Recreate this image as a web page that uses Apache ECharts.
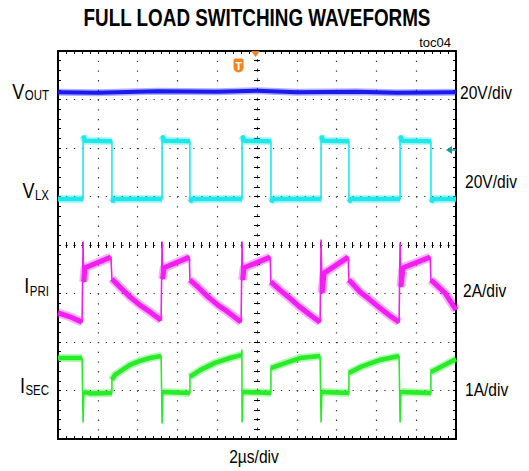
<!DOCTYPE html>
<html>
<head>
<meta charset="utf-8">
<script src="https://cdn.jsdelivr.net/npm/echarts@6/dist/echarts.min.js"></script>
<style>
html,body{margin:0;padding:0;background:#fff;}
#c{width:529px;height:471px;}
</style>
</head>
<body>
<div id="c"></div>
<script>
// time in µs relative to the trigger point; amplitude in screen divisions from the centre line
const titleText = 'FULL LOAD SWITCHING WAVEFORMS';
const figId = 'toc04';
const timeScale = '2µs/div';
const channelMain = ['V', 'V', 'I', 'I'];
const channelSub = ['OUT', 'LX', 'PRI', 'SEC'];
const channelScale = ['20V/div', '20V/div', '2A/div', '1A/div'];

const vOut = [[-10,3.15],[-8,3.14],[-5,3.17],[-2,3.16],[0,3.18],[2,3.15],[5,3.16],[7,3.14],[10,3.15]];

const vLx = [
[-10,0.95],[-8.74,0.95],[-8.74,2.25],[-8.62,2.15],[-7.29,2.14],[-7.29,0.88],[-7.17,0.95],
[-4.77,0.95],[-4.77,2.25],[-4.65,2.15],[-3.37,2.14],[-3.37,0.88],[-3.25,0.95],
[-0.75,0.95],[-0.75,2.25],[-0.63,2.15],[0.70,2.14],[0.70,0.88],[0.82,0.95],
[3.22,0.95],[3.22,2.25],[3.34,2.15],[4.62,2.14],[4.62,0.88],[4.74,0.95],
[7.19,0.95],[7.19,2.25],[7.31,2.15],[8.74,2.14],[8.74,0.88],[8.86,0.95],
[10,0.95]];

const iPri = [
[-10,-1.40],[-9.4,-1.48],[-8.79,-1.59],
[-8.74,0.06],[-8.71,-0.76],[-8.64,-0.47],[-7.34,-0.25],
[-7.29,-0.70],[-6.88,-0.87],[-6.38,-1.07],[-5.88,-1.24],[-5.38,-1.38],[-4.82,-1.55],
[-4.77,0.06],[-4.74,-0.70],[-4.67,-0.47],[-3.40,-0.25],
[-3.37,-0.72],[-2.96,-0.87],[-2.46,-1.07],[-1.96,-1.24],[-1.46,-1.38],[-0.80,-1.59],
[-0.75,0.06],[-0.72,-0.72],[-0.65,-0.47],[0.66,-0.25],
[0.70,-0.76],[1.16,-0.93],[1.66,-1.10],[2.16,-1.28],[2.66,-1.44],[3.17,-1.59],
[3.22,0.10],[3.27,-0.99],[3.37,-0.58],[4.58,-0.25],
[4.62,-0.72],[5.18,-0.97],[5.68,-1.13],[6.18,-1.30],[6.68,-1.46],[7.14,-1.59],
[7.19,0.04],[7.23,-0.86],[7.34,-0.47],[8.70,-0.25],
[8.74,-0.72],[9.45,-0.99],[10,-1.34]];

const iSec = [
[-10,-2.33],[-8.79,-2.33],
[-8.74,-3.65],[-8.70,-3.03],[-8.4,-3.06],[-7.29,-3.05],
[-7.29,-2.78],[-7.14,-2.68],[-6.38,-2.47],[-5.88,-2.39],[-5.38,-2.33],[-4.82,-2.29],
[-4.77,-3.67],[-4.73,-3.03],[-3.37,-3.05],
[-3.37,-2.72],[-2.86,-2.58],[-2.11,-2.43],[-1.36,-2.33],[-0.80,-2.27],
[-0.76,-2.17],[-0.75,-3.65],[-0.71,-3.03],[0.70,-3.05],
[0.70,-2.54],[1.16,-2.47],[2.16,-2.33],[3.17,-2.29],
[3.22,-3.65],[3.26,-3.03],[4.62,-3.05],
[4.62,-2.64],[5.18,-2.52],[6.18,-2.37],[7.14,-2.29],
[7.19,-3.65],[7.23,-3.03],[8.74,-3.05],
[8.74,-2.62],[9.45,-2.47],[10,-2.35]];

const traceColors = ['#1a1af0', '#1ee8e8', '#f21ef2', '#28ec28'];
const traceData = [vOut, vLx, iPri, iSec];
const coreWidths = [4, 4.5, 5, 4.5];
const haloWidths = [7, 8, 9, 8];

const FONT = '"Liberation Sans",Arial,sans-serif';
const NARROW_SCALE = 0.82; // emulate a narrow sans face
const chart = echarts.init(document.getElementById('c'), null, {renderer: 'svg'});

const measureCtx = document.createElement('canvas').getContext('2d');
function textWidth(txt, font) { measureCtx.font = font; return measureCtx.measureText(txt).width * NARROW_SCALE; }

// break the band (thick) drawing at near-vertical steps so edges and spikes stay thin
function bandOnly(d) {
  const out = [];
  for (let i = 0; i < d.length; i++) {
    if (i > 0 && Math.abs(d[i][0] - d[i - 1][0]) < 0.06) out.push([d[i][0], '-']);
    out.push(d[i]);
  }
  return out;
}

function xAx(extra) {
  return Object.assign({
    type: 'value', min: -10, max: 10, interval: 2,
    axisLabel: {show: false}, splitLine: {show: false},
    axisTick: {show: true, inside: true, length: 3, lineStyle: {color: '#000', width: 1}},
    minorTick: {show: true, splitNumber: 5, length: 3, lineStyle: {color: '#000', width: 1}}
  }, extra);
}
function yAx(extra) {
  return Object.assign({
    type: 'value', min: -4, max: 4, interval: 1,
    axisLabel: {show: false}, splitLine: {show: false},
    axisTick: {show: true, inside: true, length: 3, lineStyle: {color: '#000', width: 1}},
    minorTick: {show: true, splitNumber: 5, length: 3, lineStyle: {color: '#000', width: 1}}
  }, extra);
}
const borderLine = {show: true, onZero: false, lineStyle: {color: '#000', width: 2}};
const centreLine = (dash) => ({show: true, onZero: true, onZeroAxisIndex: 0, lineStyle: {color: '#444', width: 1, type: dash}});

function narrowText(x, y, text, size, align, bold, extra) {
  return Object.assign({
    type: 'text', x: x, y: y, scaleX: NARROW_SCALE,
    style: {text: text, font: (bold ? 'bold ' : '') + size + 'px ' + FONT, fill: '#000', textAlign: align, textVerticalAlign: 'middle'}
  }, extra || {});
}

// label anchor positions (pixels)
const leftMainY = [91, 190.5, 285, 385.5];
const leftSubY = [95.5, 195.5, 291.5, 390];
const labelRight = 49;
const rightPos = [[460, 92.5], [465, 181], [463, 290], [465, 389]];

const graphic = [
  narrowText(257, 18, titleText, 23, 'center', true),
  {type: 'text', x: 451, y: 42.5, style: {text: figId, font: '13px ' + FONT, fill: '#000', textAlign: 'right', textVerticalAlign: 'middle'}},
  narrowText(254, 456, timeScale, 19, 'center', false),
  {type: 'polygon', shape: {points: [[251, 51], [260, 51], [255.5, 57]]}, style: {fill: '#f5821f'}, z: 10},
  {type: 'rect', shape: {x: 233.5, y: 58.5, width: 10, height: 14, r: [2, 2, 5, 5]}, style: {fill: '#f5821f'}, z: 10},
  {type: 'text', x: 238.5, y: 65.5, style: {text: 'T', font: 'bold 11px ' + FONT, fill: '#fff', textAlign: 'center', textVerticalAlign: 'middle'}, z: 11},
  {type: 'polygon', shape: {points: [[446, 150], [452, 146], [452, 154]]}, style: {fill: '#109c9c'}, z: 10},
  {type: 'line', shape: {x1: 451, y1: 150, x2: 456, y2: 150}, style: {stroke: '#109c9c', lineWidth: 1.5}, z: 10}
];
channelMain.forEach((m, i) => {
  const subFont = '14px ' + FONT;
  const subW = textWidth(channelSub[i], subFont);
  graphic.push(narrowText(labelRight - subW - 0.5, leftMainY[i], m, 22, 'right', false));
  graphic.push(narrowText(labelRight, leftSubY[i], channelSub[i], 14, 'right', false));
  graphic.push(narrowText(rightPos[i][0], rightPos[i][1], channelScale[i], 19, 'left', false));
});

const series = [];
traceData.forEach((d, i) => {
  const base = {type: 'line', xAxisIndex: 0, yAxisIndex: 0, showSymbol: false, symbol: 'none', clip: true, connectNulls: false, silent: true};
  const name = channelMain[i] + channelSub[i];
  series.push(Object.assign({}, base, {name: name + ' noise', data: bandOnly(d), z: 5 + i * 3,
    lineStyle: {color: traceColors[i], width: haloWidths[i], opacity: 0.35, join: 'round', cap: 'butt'}}));
  series.push(Object.assign({}, base, {name: name + ' band', data: bandOnly(d), z: 6 + i * 3,
    lineStyle: {color: traceColors[i], width: coreWidths[i], join: 'round', cap: 'butt'}}));
  series.push(Object.assign({}, base, {name: name, data: d, z: 7 + i * 3,
    lineStyle: {color: traceColors[i], width: 1.6, join: 'round'}}));
});

chart.setOption({
  animation: false,
  backgroundColor: '#fff',
  grid: {left: 58, top: 51, right: 73, bottom: 32, containLabel: false},
  xAxis: [
    xAx({position: 'bottom', axisLine: borderLine, splitLine: {show: true, lineStyle: {color: '#333', width: 1.2, type: [1.3, 8.4]}}}),
    xAx({position: 'top', axisLine: borderLine}),
    xAx({position: 'bottom', axisLine: centreLine([1.3, 6.66])}),
    xAx({position: 'bottom', axisLine: centreLine([1.3, 6.66]), axisTick: {show: true, inside: false, length: 3, lineStyle: {color: '#000'}}, minorTick: {show: true, splitNumber: 5, length: 3, lineStyle: {color: '#000'}}})
  ],
  yAxis: [
    yAx({position: 'left', axisLine: borderLine, splitLine: {show: true, lineStyle: {color: '#333', width: 1.2, type: [1.3, 6.66]}}}),
    yAx({position: 'right', axisLine: borderLine}),
    yAx({position: 'left', axisLine: centreLine([1.3, 8.4])}),
    yAx({position: 'left', axisLine: centreLine([1.3, 8.4]), axisTick: {show: true, inside: false, length: 3, lineStyle: {color: '#000'}}, minorTick: {show: true, splitNumber: 5, length: 3, lineStyle: {color: '#000'}}})
  ],
  series: series,
  graphic: graphic
});
</script>
</body>
</html>
